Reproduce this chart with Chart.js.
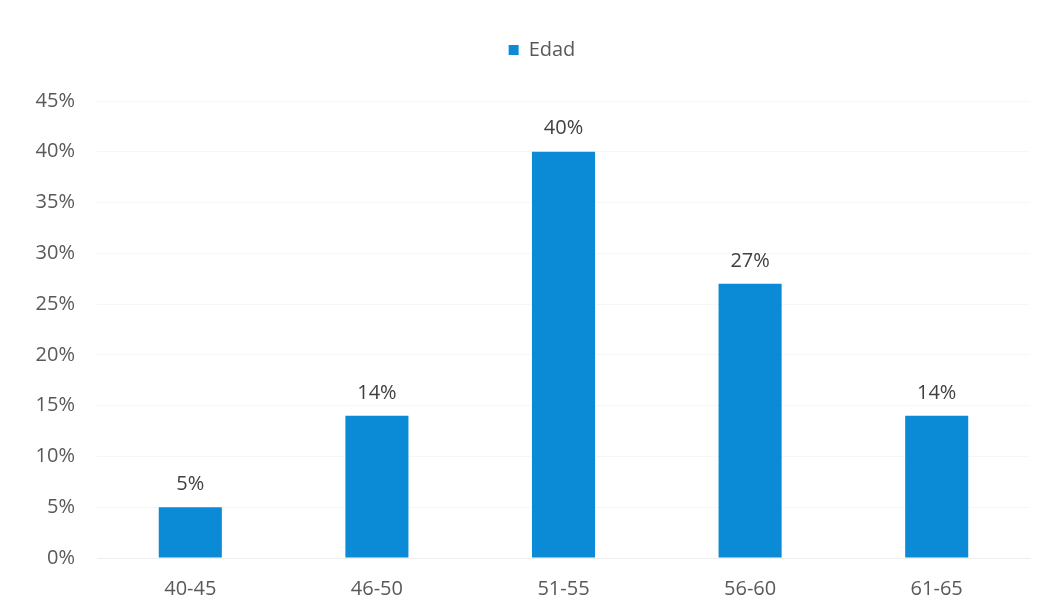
<!DOCTYPE html>
<html>
<head>
<meta charset="utf-8">
<script src="https://cdn.jsdelivr.net/npm/chart.js@4"></script>
<style>
  html, body { margin: 0; padding: 0; background: #ffffff; }
  #wrap { width: 1048px; height: 600px; }
</style>
</head>
<body>
<div id="wrap"><canvas id="edadChart"></canvas></div>
<script>
// Age groups and share of respondents (%)
const rangos = ['40-45', '46-50', '51-55', '56-60', '61-65'];
const edad = [5, 14, 40, 27, 14];
const yTicks = [0, 5, 10, 15, 20, 25, 30, 35, 40, 45];

const azul = '#0b8bd6';
const fuente = "'Open Sans', sans-serif";

// value labels drawn above each bar
const etiquetas = {
    id: 'etiquetas',
    afterDatasetsDraw(chart) {
        const ctx = chart.ctx;
        const meta = chart.getDatasetMeta(0);
        ctx.save();
        ctx.font = '20px ' + fuente;
        ctx.fillStyle = '#404040';
        ctx.textAlign = 'center';
        ctx.textBaseline = 'middle';
        meta.data.forEach((bar, i) => {
            ctx.fillText(edad[i] + '%', bar.x, bar.y - 23);
        });
        ctx.restore();
    }
};

// extra room between legend and plot, legend centred over the plot area
const ajusteLeyenda = {
    id: 'ajusteLeyenda',
    beforeInit(chart) {
        const fit = chart.legend.fit;
        chart.legend.fit = function () {
            fit.bind(chart.legend)();
            this.height += 31;
        };
    },
    afterLayout(chart) {
        const l = chart.legend;
        l.left += 22;
        l.right += 22;
        l.adjustHitBoxes();
    }
};

const ctx = document.getElementById('edadChart').getContext('2d');
const edadChart = new Chart(ctx, {
    type: 'bar',
    data: {
        labels: rangos,
        datasets: [{
            label: 'Edad',
            data: edad,
            backgroundColor: azul,
            borderWidth: 0,
            categoryPercentage: 1,
            barPercentage: 0.338
        }]
    },
    options: {
        responsive: true,
        maintainAspectRatio: false,
        animation: false,
        layout: { padding: { top: 30, left: 10, right: 18, bottom: 0 } },
        plugins: {
            legend: {
                position: 'top',
                labels: {
                    boxWidth: 10,
                    boxHeight: 10,
                    padding: 10,
                    color: '#595959',
                    font: { family: fuente, size: 20 }
                }
            },
            tooltip: { enabled: false }
        },
        scales: {
            x: {
                grid: { display: false },
                border: { display: true, color: '#eeeeee' },
                ticks: {
                    color: '#595959',
                    padding: 11,
                    font: { family: fuente, size: 20 }
                },
                afterFit(scale) { scale.height = 42; }
            },
            y: {
                min: 0,
                max: 45,
                grid: { color: 'rgba(0,0,0,0.03)', drawTicks: false },
                border: { display: false },
                afterBuildTicks(scale) {
                    scale.ticks = yTicks.map(v => ({ value: v }));
                },
                ticks: {
                    color: '#595959',
                    padding: 22,
                    font: { family: fuente, size: 20 },
                    callback: v => v + '%'
                },
                afterFit(scale) { scale.width = 87; }
            }
        }
    },
    plugins: [etiquetas, ajusteLeyenda]
});
</script>
</body>
</html>
